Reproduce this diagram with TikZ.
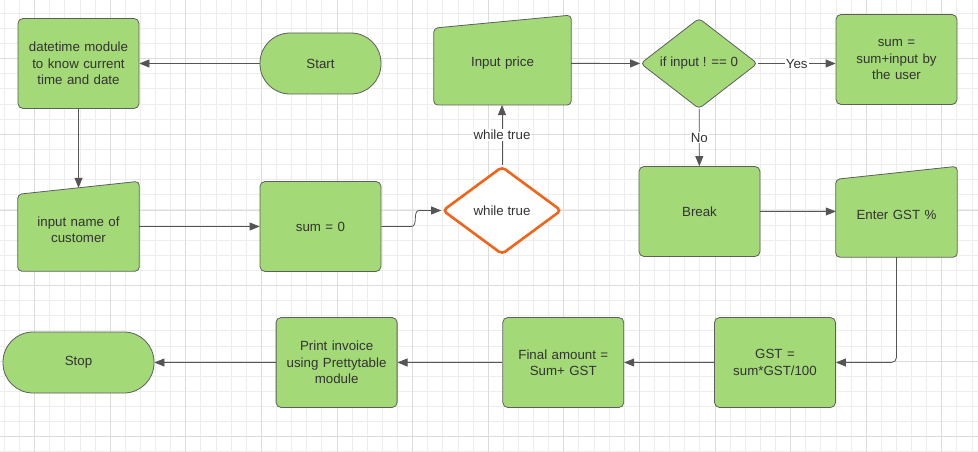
\documentclass[tikz,border=0pt]{standalone}
\usepackage{fontspec}
\setmainfont{Liberation Sans}
\usepackage{xcolor}
\usepackage{tikz}
\usetikzlibrary{arrows.meta,shapes.geometric,backgrounds,calc}

\definecolor{boxgreen}{HTML}{A3D977}
\definecolor{boxline}{HTML}{5E5E5E}
\definecolor{wireline}{HTML}{555555}
\definecolor{looporange}{HTML}{F26419}
\definecolor{textgray}{HTML}{333333}
\definecolor{gridminor}{HTML}{EDEDED}
\definecolor{gridmajor}{HTML}{DCDCDC}

\begin{document}
\begin{tikzpicture}[x=1pt, y=-1pt,
    font=\fontsize{13.3}{16.5}\selectfont, text=textgray,
    box/.style={rectangle, rounded corners=5pt, draw=boxline, line width=0.8pt, fill=boxgreen,
      minimum width=121pt, minimum height=90pt, text width=112pt, align=center, inner sep=0pt},
    term/.style={box, rounded corners=30pt, minimum height=61pt},
    manual/.style={rectangle, minimum width=121pt, minimum height=83pt, text width=112pt, align=center, inner sep=0pt},
    slant/.style={draw=boxline, line width=0.8pt, fill=boxgreen, rounded corners=4pt},
    decide/.style={diamond, rounded corners=4pt, draw=boxline, line width=0.8pt, fill=boxgreen,
      minimum width=117pt, minimum height=88pt, inner sep=0pt, align=center},
    wire/.style={draw=wireline, line width=0.8pt, -{Triangle[length=10pt,width=8pt]}},
    wirelabel/.style={fill=white, inner sep=1pt}]

          \useasboundingbox (0,0) rectangle (978,452);

          % grid paper
          \begin{scope}[on background layer]
            \fill[white] (0,0) rectangle (978,452);
            \foreach \i in {0,...,64}{
              \draw[gridminor, line width=0.8pt] ({4.3+15.12*\i},0) -- ++(0,452);
            }
            \foreach \i in {0,...,29}{
              \draw[gridminor, line width=0.8pt] (0,{13.3+15.12*\i}) -- ++(978,0);
            }
            \foreach \i in {0,...,12}{
              \draw[gridmajor, line width=0.8pt] ({34.5+75.6*\i},0) -- ++(0,452);
            }
            \foreach \i in {0,...,5}{
              \draw[gridmajor, line width=0.8pt] (0,{58.7+75.6*\i}) -- ++(978,0);
            }
          \end{scope}

          \node[box] (dt) at (78.5,63.5) {datetime module\\to know current\\time and date};
          \node[term] (start) at (320.5,63.5) {Start};
          \node[manual] (nm) at (78.5,229.5) {input name of\\customer};
          \node[box] (zero) at (320.5,226.5) {sum = 0};
          \node[decide, fill=white, draw=looporange, line width=2.6pt, minimum width=119pt] (wt) at (502,210.5) {while true};
          \node[manual, minimum width=137pt] (ip) at (502.5,63.3) {Input price};
          \node[decide] (cond) at (699,63.5) {if input ! == 0};
          \node[box] (add) at (896.5,59.5) {sum =\\sum+input by\\the user};
          \node[box] (brk) at (699.5,211.5) {Break};
          \node[manual, minimum height=84pt] (ent) at (896.5,215) {Enter GST \%};
          \node[box] (gst) at (775,362.5) {GST =\\sum*GST/100};
          \node[box] (fin) at (563.3,362.5) {Final amount =\\Sum+ GST};
          \node[box] (prn) at (336.6,362.5) {Print invoice\\using Prettytable\\module};
          \node[term, minimum width=151pt] (stop) at (78.5,362.5) {Stop};

          % manual input outlines
          \begin{scope}[on background layer]
            \foreach \n in {nm, ip, ent}{
              \filldraw[slant] (\n.south west) -- ([yshift=-6.5pt]\n.north west)
                -- ([yshift=6.5pt]\n.north east) -- (\n.south east) -- cycle;
            }
          \end{scope}

          \draw[wire] (start) -- (dt);
          \draw[wire] (dt.south) -- (nm.north);
          \draw[wire] (nm.east |- zero) -- (zero);
          \draw[wire] (zero.east) -- ++(30,0) to[out=0,in=180] ($(wt.west)+(-22,0)$) -- (wt.west);
          \draw[wire] (wt.north) -- node[wirelabel] {while true} (wt.north |- ip.south);
          \draw[wire] (ip) -- (cond);
          \draw[wire] (cond.east) -- node[wirelabel] {Yes} (cond.east -| add.west);
          \draw[wire] (cond) -- node[wirelabel] {No} (brk);
          \draw[wire] (brk.east) -- (brk.east -| ent.west);
          \draw[wire, rounded corners=5pt] (ent.south) |- (gst.east);
          \draw[wire] (gst) -- (fin);
          \draw[wire] (fin) -- (prn);
          \draw[wire] (prn) -- (stop);
        \end{tikzpicture}
\end{document}
